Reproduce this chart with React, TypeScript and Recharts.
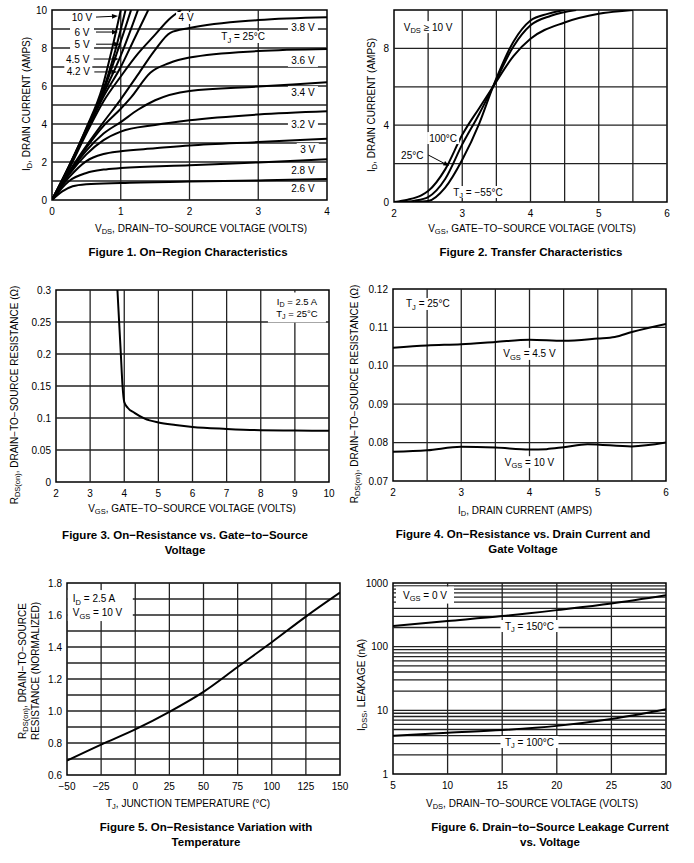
import React from 'react';
import { LineChart, Line, XAxis, YAxis, ReferenceLine, ReferenceDot, ReferenceArea } from 'recharts';

const FONT = '"Liberation Sans", Arial, Helvetica, sans-serif';
const GRID = '#222';

type Pair = [number, number];
type Part = string | { sub: string };
type Rich = Part[];

// ---- Figure 1: on-region characteristics (VDS, ID) ----
const fig1Vgs10: Pair[] = [[0, 0], [0.25, 1.8], [0.5, 3.8], [0.73, 5.9], [0.85, 7.6], [1.0, 10]];
const fig1Vgs6: Pair[] = [[0, 0], [0.25, 1.8], [0.5, 3.75], [0.75, 5.85], [0.9, 7.6], [1.07, 10]];
const fig1Vgs5: Pair[] = [[0, 0], [0.25, 1.75], [0.5, 3.7], [0.75, 5.75], [0.95, 7.8], [1.15, 10]];
const fig1Vgs45: Pair[] = [[0, 0], [0.25, 1.75], [0.5, 3.65], [0.75, 5.6], [1.0, 7.6], [1.25, 10]];
const fig1Vgs42: Pair[] = [[0, 0], [0.25, 1.7], [0.5, 3.6], [0.75, 5.45], [1.0, 7.0], [1.2, 8.5], [1.4, 10]];
const fig1Vgs4: Pair[] = [[0, 0], [0.25, 1.65], [0.5, 3.5], [0.75, 5.2], [1, 6.5], [1.25, 7.7], [1.5, 8.7], [1.7, 9.5], [1.88, 10]];
const fig1Vgs38: Pair[] = [[0, 0], [0.25, 1.5], [0.5, 2.85], [0.75, 4.1], [1, 5.3], [1.25, 6.6], [1.5, 7.9], [1.72, 8.8], [2, 9.05], [3, 9.47], [4, 9.62]];
const fig1Vgs36: Pair[] = [[0, 0], [0.25, 1.45], [0.5, 2.75], [0.75, 3.9], [1, 4.8], [1.15, 5.4], [1.43, 6.7], [1.7, 7.2], [2, 7.5], [3, 7.84], [4, 7.95]];
const fig1Vgs34: Pair[] = [[0, 0], [0.25, 1.4], [0.5, 2.6], [0.75, 3.5], [1, 4.1], [1.25, 4.75], [1.5, 5.25], [2, 5.74], [3, 5.97], [4, 6.2]];
const fig1Vgs32: Pair[] = [[0, 0], [0.25, 1.35], [0.5, 2.4], [0.75, 3.15], [1, 3.6], [1.5, 3.95], [2, 4.2], [3, 4.5], [4, 4.67]];
const fig1Vgs30: Pair[] = [[0, 0], [0.25, 1.2], [0.5, 2.05], [0.75, 2.42], [1, 2.57], [1.5, 2.72], [2, 2.87], [3, 3.05], [4, 3.22]];
const fig1Vgs28: Pair[] = [[0, 0], [0.25, 1.0], [0.5, 1.42], [0.75, 1.6], [1, 1.68], [2, 1.83], [3, 1.98], [4, 2.15]];
const fig1Vgs26: Pair[] = [[0, 0], [0.15, 0.45], [0.3, 0.72], [0.5, 0.83], [1, 0.9], [2, 0.97], [3, 1.03], [4, 1.1]];
const fig1XTicks = [0, 1, 2, 3, 4];
const fig1YTicks = [0, 2, 4, 6, 8, 10];
const fig1XGrid = [1, 2, 3];
const fig1YGrid = [1, 2, 3, 4, 5, 6, 7, 8, 9];

// ---- Figure 2: transfer characteristics (VGS, ID) ----
const fig2T100: Pair[] = [[2, 0], [2.2, 0.12], [2.4, 0.35], [2.5, 0.57], [2.75, 1.7], [3, 3.5], [3.25, 4.9], [3.45, 6.0], [3.75, 7.6], [4, 8.5], [4.5, 9.35], [5, 9.8], [5.5, 10]];
const fig2T25: Pair[] = [[2.1, 0], [2.3, 0.07], [2.5, 0.26], [2.75, 1.2], [3, 3.0], [3.25, 4.6], [3.45, 6.0], [3.75, 8.1], [4, 9.2], [4.3, 9.7], [4.67, 10]];
const fig2Tm55: Pair[] = [[2.3, 0], [2.5, 0.05], [2.75, 0.75], [3, 2.2], [3.25, 4.1], [3.45, 6.0], [3.75, 8.35], [4, 9.45], [4.25, 9.8], [4.5, 10]];
const fig2XTicks = [2, 3, 4, 5, 6];
const fig2YTicks = [0, 4, 8];
const fig2XGrid = [2.5, 3, 3.5, 4, 4.5, 5, 5.5];
const fig2YGrid = [2, 4, 6, 8];

// ---- Figure 3: RDS(on) vs VGS ----
const fig3Rds: Pair[] = [[3.8, 0.3], [3.85, 0.25], [3.9, 0.2], [3.95, 0.15], [4.0, 0.125], [4.1, 0.116], [4.3, 0.108], [4.6, 0.099], [5, 0.093], [5.5, 0.089], [6, 0.086], [7, 0.083], [8, 0.081], [9, 0.0805], [10, 0.08]];
const fig3XTicks = [2, 3, 4, 5, 6, 7, 8, 9, 10];
const fig3YTicks = [0, 0.05, 0.1, 0.15, 0.2, 0.25, 0.3];
const fig3XGrid = [3, 4, 5, 6, 7, 8, 9];
const fig3YGrid = [0.05, 0.1, 0.15, 0.2, 0.25];

// ---- Figure 4: RDS(on) vs ID ----
const fig4Vgs45: Pair[] = [[2, 0.1047], [2.5, 0.1053], [3, 0.1056], [3.5, 0.1062], [4, 0.1068], [4.5, 0.1065], [5, 0.1071], [5.25, 0.1075], [5.5, 0.1088], [6, 0.1109]];
const fig4Vgs10: Pair[] = [[2, 0.0776], [2.5, 0.078], [3, 0.0789], [3.5, 0.0787], [4, 0.0782], [4.25, 0.0783], [4.5, 0.0788], [4.85, 0.0796], [5.5, 0.079], [6, 0.08]];
const fig4XTicks = [2, 3, 4, 5, 6];
const fig4YTicks = [0.07, 0.08, 0.09, 0.1, 0.11, 0.12];
const fig4XGrid = [2.5, 3, 3.5, 4, 4.5, 5, 5.5];
const fig4YGrid = [0.08, 0.09, 0.1, 0.11];

// ---- Figure 5: normalized RDS(on) vs TJ ----
const fig5Norm: Pair[] = [[-50, 0.69], [-25, 0.79], [0, 0.885], [25, 0.995], [50, 1.12], [75, 1.275], [100, 1.43], [125, 1.59], [150, 1.74]];
const fig5XTicks = [-50, -25, 0, 25, 50, 75, 100, 125, 150];
const fig5YTicks = [0.6, 0.8, 1.0, 1.2, 1.4, 1.6, 1.8];
const fig5XGrid = [-25, 0, 25, 50, 75, 100, 125];
const fig5YGrid = [0.7, 0.8, 0.9, 1.0, 1.1, 1.2, 1.3, 1.4, 1.5, 1.6, 1.7];

// ---- Figure 6: IDSS leakage vs VDS ----
const fig6T150: Pair[] = [[5, 212], [10, 253], [15, 302], [20, 375], [25, 475], [30, 640]];
const fig6T100: Pair[] = [[5, 4.0], [10, 4.45], [15, 4.9], [20, 5.7], [25, 7.3], [30, 10.4]];
const fig6XTicks = [5, 10, 15, 20, 25, 30];
const fig6YTicks = [1, 10, 100, 1000];
const fig6XGrid = [10, 15, 20, 25];
const fig6YGrid = [2, 3, 4, 5, 6, 7, 8, 9, 10, 20, 30, 40, 50, 60, 70, 80, 90, 100, 200, 300, 400, 500, 600, 700, 800, 900];

type Note = {
  x: number;
  y: number;
  lines: Rich[];
  w: number;
  h?: number;
  lh?: number;
  fs?: number;
  dx?: number;
  dy?: number;
  arrow?: boolean;
  left?: boolean;
};

const fig1Notes: Note[] = [
  { x: 0.96, y: 9.68, lines: [['10 V']], w: 24, dx: -36, dy: 1, arrow: true },
  { x: 0.96, y: 8.84, lines: [['6 V']], w: 24, dx: -36, arrow: true },
  { x: 0.99, y: 8.2, lines: [['5 V']], w: 24, dx: -38, arrow: true },
  { x: 0.97, y: 7.42, lines: [['4.5 V']], w: 28, dx: -41, arrow: true },
  { x: 0.95, y: 6.74, lines: [['4.2 V']], w: 28, dx: -39, arrow: true },
  { x: 1.95, y: 9.58, lines: [['4 V']], w: 20 },
  { x: 2.78, y: 8.58, lines: [['T', { sub: 'J' }, ' = 25°C']], w: 52 },
  { x: 3.65, y: 9.1, lines: [['3.8 V']], w: 30 },
  { x: 3.65, y: 7.32, lines: [['3.6 V']], w: 30 },
  { x: 3.65, y: 5.68, lines: [['3.4 V']], w: 30 },
  { x: 3.65, y: 4.0, lines: [['3.2 V']], w: 30 },
  { x: 3.72, y: 2.68, lines: [['3 V']], w: 22 },
  { x: 3.65, y: 1.53, lines: [['2.8 V']], w: 30 },
  { x: 3.65, y: 0.63, lines: [['2.6 V']], w: 30 },
];

const fig2Notes: Note[] = [
  { x: 2.5, y: 9.11, lines: [['V', { sub: 'DS' }, ' ≥ 10 V']], w: 58 },
  { x: 2.72, y: 3.33, lines: [['100°C']], w: 32 },
  { x: 2.81, y: 1.875, lines: [['25°C']], w: 28, dx: -37, dy: -11, arrow: true },
  { x: 3.23, y: 0.52, lines: [['T', { sub: 'J' }, ' = −55°C']], w: 56 },
];

const fig3Notes: Note[] = [
  { x: 9.06, y: 0.2727, lines: [['I', { sub: 'D' }, ' = 2.5 A'], ['T', { sub: 'J' }, ' = 25°C']], w: 58, h: 30, lh: 12, fs: 9.5 },
];

const fig4Notes: Note[] = [
  { x: 2.51, y: 0.1161, lines: [['T', { sub: 'J' }, ' = 25°C']], w: 54 },
  { x: 4.0, y: 0.1031, lines: [['V', { sub: 'GS' }, ' = 4.5 V']], w: 62 },
  { x: 4.0, y: 0.0749, lines: [['V', { sub: 'GS' }, ' = 10 V']], w: 56 },
];

const fig5Notes: Note[] = [
  { x: -25.6, y: 1.659, lines: [['I', { sub: 'D' }, ' = 2.5 A'], ['V', { sub: 'GS' }, ' = 10 V']], w: 65, h: 31, lh: 14.5, left: true },
];

const fig6Notes: Note[] = [
  { x: 7.93, y: 646, lines: [['V', { sub: 'GS' }, ' = 0 V']], w: 58, h: 17 },
  { x: 17.5, y: 211, lines: [['T', { sub: 'J' }, ' = 150°C']], w: 58 },
  { x: 17.5, y: 3.18, lines: [['T', { sub: 'J' }, ' = 100°C']], w: 58 },
];

function svgParts(parts: Rich, fs: number) {
  const out: React.ReactNode[] = [];
  let shifted = false;
  parts.forEach((p, i) => {
    if (typeof p === 'string') {
      out.push(<tspan key={i} dy={shifted ? -fs * 0.28 : undefined}>{p}</tspan>);
      shifted = false;
    } else {
      out.push(<tspan key={i} dy={fs * 0.28} fontSize={fs * 0.75}>{p.sub}</tspan>);
      shifted = true;
    }
  });
  return out;
}

function NoteMark({ cx, cy, note }: { cx: number; cy: number; note: Note }) {
  const fs = note.fs ?? 10;
  const lh = note.lh ?? 12;
  const lx = cx + (note.dx ?? 0);
  const ly = cy + (note.dy ?? 0);
  const n = note.lines.length;
  const bh = note.h ?? n * lh;
  const bw = note.w;
  let arrow: React.ReactNode = null;
  if (note.arrow) {
    const sx = lx + bw / 2 + 2;
    const sy = ly;
    const len = Math.hypot(cx - sx, cy - sy) || 1;
    const ux = (cx - sx) / len;
    const uy = (cy - sy) / len;
    const bx = cx - ux * 6;
    const by = cy - uy * 6;
    arrow = (
      <g>
        <line x1={sx} y1={sy} x2={bx} y2={by} stroke="#000" strokeWidth={1} />
        <polygon points={`${cx},${cy} ${bx - uy * 2.4},${by + ux * 2.4} ${bx + uy * 2.4},${by - ux * 2.4}`} fill="#000" />
      </g>
    );
  }
  const tx = note.left ? lx - bw / 2 + 5 : lx;
  return (
    <g>
      <rect x={lx - bw / 2} y={ly - bh / 2} width={bw} height={bh} fill="#fff" />
      {arrow}
      {note.lines.map((line, i) => (
        <text
          key={i}
          x={tx}
          y={ly - (n * lh) / 2 + lh * (i + 0.5) + fs * 0.35}
          textAnchor={note.left ? 'start' : 'middle'}
          fontSize={fs}
          fontFamily={FONT}
          fill="#000"
        >
          {svgParts(line, fs)}
        </text>
      ))}
    </g>
  );
}

type PanelProps = {
  l: number;
  t: number;
  r: number;
  b: number;
  xDomain: [number, number];
  yDomain: [number, number];
  xTicks: number[];
  yTicks: number[];
  xGrid: number[];
  yGrid: number[];
  curves: Pair[][];
  notes: Note[];
  yLog?: boolean;
  xFmt?: (v: number) => string;
  yFmt?: (v: number) => string;
};

function Panel(p: PanelProps) {
  const padL = 44;
  const padT = 8;
  const padR = 10;
  const padB = 24;
  const w = p.r - p.l;
  const h = p.b - p.t;
  const tick = { fontSize: 10, fill: '#000', fontFamily: FONT };
  return (
    <div style={{ position: 'absolute', left: p.l - padL, top: p.t - padT }}>
      <LineChart width={w + padL + padR} height={h + padT + padB} margin={{ top: padT, right: padR, bottom: 0, left: 0 }}>
        <XAxis
          type="number"
          dataKey="x"
          domain={p.xDomain}
          ticks={p.xTicks}
          interval={0}
          allowDataOverflow
          axisLine={false}
          tickLine={false}
          tickSize={0}
          tickMargin={8}
          height={padB}
          tick={tick}
          tickFormatter={p.xFmt}
        />
        <YAxis
          type="number"
          dataKey="y"
          scale={p.yLog ? 'log' : 'auto'}
          domain={p.yDomain}
          ticks={p.yTicks}
          interval={0}
          allowDataOverflow
          axisLine={false}
          tickLine={false}
          tickSize={0}
          tickMargin={5}
          width={padL}
          tick={tick}
          tickFormatter={p.yFmt}
        />
        {p.yGrid.map((v) => (
          <ReferenceLine key={'h' + v} y={v} stroke={GRID} strokeWidth={1.3} />
        ))}
        {p.xGrid.map((v) => (
          <ReferenceLine key={'v' + v} x={v} stroke={GRID} strokeWidth={1.3} />
        ))}
        <ReferenceArea x1={p.xDomain[0]} x2={p.xDomain[1]} y1={p.yDomain[0]} y2={p.yDomain[1]} fill="none" fillOpacity={0} stroke="#000" strokeWidth={1.5} />
        {p.notes.map((n, i) => (
          <ReferenceDot key={'n' + i} x={n.x} y={n.y} r={0} shape={(s: any) => <NoteMark cx={s.cx} cy={s.cy} note={n} />} />
        ))}
        {p.curves.map((c, i) => (
          <Line
            key={'c' + i}
            data={c.map(([x, y]) => ({ x, y }))}
            dataKey="y"
            type="monotone"
            stroke="#000"
            strokeWidth={2}
            dot={false}
            activeDot={false}
            isAnimationActive={false}
          />
        ))}
      </LineChart>
    </div>
  );
}

function HtmlRich({ parts }: { parts: Rich }) {
  return (
    <>
      {parts.map((p, i) =>
        typeof p === 'string' ? (
          <span key={i}>{p}</span>
        ) : (
          <span key={i} style={{ fontSize: '0.75em', position: 'relative', top: '0.3em' }}>
            {p.sub}
          </span>
        )
      )}
    </>
  );
}

function TextAt({ x, y, lines, size, bold, rotate, lh }: { x: number; y: number; lines: Rich[]; size: number; bold?: boolean; rotate?: boolean; lh?: number }) {
  return (
    <div
      style={{
        position: 'absolute',
        left: x,
        top: y,
        transform: `translate(-50%, -50%)${rotate ? ' rotate(-90deg)' : ''}`,
        fontSize: size,
        fontWeight: bold ? 700 : 400,
        whiteSpace: 'nowrap',
        textAlign: 'center',
        lineHeight: `${lh ?? size * 1.2}px`,
      }}
    >
      {lines.map((l, i) => (
        <div key={i}>
          <HtmlRich parts={l} />
        </div>
      ))}
    </div>
  );
}

const minusFmt = (v: number) => (v < 0 ? '−' + Math.abs(v) : String(v));

export default function App() {
  return (
    <div style={{ position: 'absolute', left: 0, top: 0, width: 694, height: 863, background: '#fff', fontFamily: FONT, color: '#000', overflow: 'hidden' }}>
      <Panel
        l={52} t={10} r={327} b={200}
        xDomain={[0, 4]} yDomain={[0, 10]}
        xTicks={fig1XTicks} yTicks={fig1YTicks} xGrid={fig1XGrid} yGrid={fig1YGrid}
        curves={[fig1Vgs10, fig1Vgs6, fig1Vgs5, fig1Vgs45, fig1Vgs42, fig1Vgs4, fig1Vgs38, fig1Vgs36, fig1Vgs34, fig1Vgs32, fig1Vgs30, fig1Vgs28, fig1Vgs26]}
        notes={fig1Notes}
      />
      <Panel
        l={394} t={10} r={667} b={202}
        xDomain={[2, 6]} yDomain={[0, 10]}
        xTicks={fig2XTicks} yTicks={fig2YTicks} xGrid={fig2XGrid} yGrid={fig2YGrid}
        curves={[fig2T100, fig2T25, fig2Tm55]}
        notes={fig2Notes}
      />
      <Panel
        l={56} t={290} r={329} b={482}
        xDomain={[2, 10]} yDomain={[0, 0.3]}
        xTicks={fig3XTicks} yTicks={fig3YTicks} xGrid={fig3XGrid} yGrid={fig3YGrid}
        curves={[fig3Rds]}
        notes={fig3Notes}
      />
      <Panel
        l={393} t={289} r={666} b={481}
        xDomain={[2, 6]} yDomain={[0.07, 0.12]}
        xTicks={fig4XTicks} yTicks={fig4YTicks} xGrid={fig4XGrid} yGrid={fig4YGrid}
        curves={[fig4Vgs45, fig4Vgs10]}
        notes={fig4Notes}
        yFmt={(v) => v.toFixed(2)}
      />
      <Panel
        l={67} t={583} r={340} b={775}
        xDomain={[-50, 150]} yDomain={[0.6, 1.8]}
        xTicks={fig5XTicks} yTicks={fig5YTicks} xGrid={fig5XGrid} yGrid={fig5YGrid}
        curves={[fig5Norm]}
        notes={fig5Notes}
        xFmt={minusFmt}
        yFmt={(v) => v.toFixed(1)}
      />
      <Panel
        l={393} t={583} r={666} b={774}
        xDomain={[5, 30]} yDomain={[1, 1000]}
        xTicks={fig6XTicks} yTicks={fig6YTicks} xGrid={fig6XGrid} yGrid={fig6YGrid}
        curves={[fig6T150, fig6T100]}
        notes={fig6Notes}
        yLog
      />

      <TextAt x={201} y={229} size={10} lines={[['V', { sub: 'DS' }, ', DRAIN−TO−SOURCE VOLTAGE (VOLTS)']]} />
      <TextAt x={27} y={104} size={10} rotate lines={[['I', { sub: 'D' }, ', DRAIN CURRENT (AMPS)']]} />
      <TextAt x={532} y={229} size={10} lines={[['V', { sub: 'GS' }, ', GATE−TO−SOURCE VOLTAGE (VOLTS)']]} />
      <TextAt x={372} y={105} size={10} rotate lines={[['I', { sub: 'D' }, ', DRAIN CURRENT (AMPS)']]} />
      <TextAt x={192} y={509} size={10} lines={[['V', { sub: 'GS' }, ', GATE−TO−SOURCE VOLTAGE (VOLTS)']]} />
      <TextAt x={15} y={395} size={10} rotate lines={[['R', { sub: 'DS(on)' }, ', DRAIN−TO−SOURCE RESISTANCE (Ω)']]} />
      <TextAt x={525} y={511} size={10} lines={[['I', { sub: 'D' }, ', DRAIN CURRENT (AMPS)']]} />
      <TextAt x={355} y={394} size={10} rotate lines={[['R', { sub: 'DS(on)' }, ', DRAIN−TO−SOURCE RESISTANCE (Ω)']]} />
      <TextAt x={188} y={804} size={10} lines={[['T', { sub: 'J' }, ', JUNCTION TEMPERATURE (°C)']]} />
      <TextAt x={29} y={671} size={10} rotate lh={12} lines={[['R', { sub: 'DS(on)' }, ', DRAIN−TO−SOURCE'], ['RESISTANCE (NORMALIZED)']]} />
      <TextAt x={532} y={804} size={10} lines={[['V', { sub: 'DS' }, ', DRAIN−TO−SOURCE VOLTAGE (VOLTS)']]} />
      <TextAt x={362} y={685} size={10} rotate lines={[['I', { sub: 'DSS' }, ', LEAKAGE (nA)']]} />

      <TextAt x={188} y={253} size={11.5} bold lines={[['Figure 1. On−Region Characteristics']]} />
      <TextAt x={531} y={253} size={11.5} bold lines={[['Figure 2. Transfer Characteristics']]} />
      <TextAt x={185} y={542} size={11.5} bold lh={14.5} lines={[['Figure 3. On−Resistance vs. Gate−to−Source'], ['Voltage']]} />
      <TextAt x={523} y={541} size={11.5} bold lh={14.5} lines={[['Figure 4. On−Resistance vs. Drain Current and'], ['Gate Voltage']]} />
      <TextAt x={206} y={834} size={11.5} bold lh={14.5} lines={[['Figure 5. On−Resistance Variation with'], ['Temperature']]} />
      <TextAt x={550} y={834} size={11.5} bold lh={14.5} lines={[['Figure 6. Drain−to−Source Leakage Current'], ['vs. Voltage']]} />
    </div>
  );
}
